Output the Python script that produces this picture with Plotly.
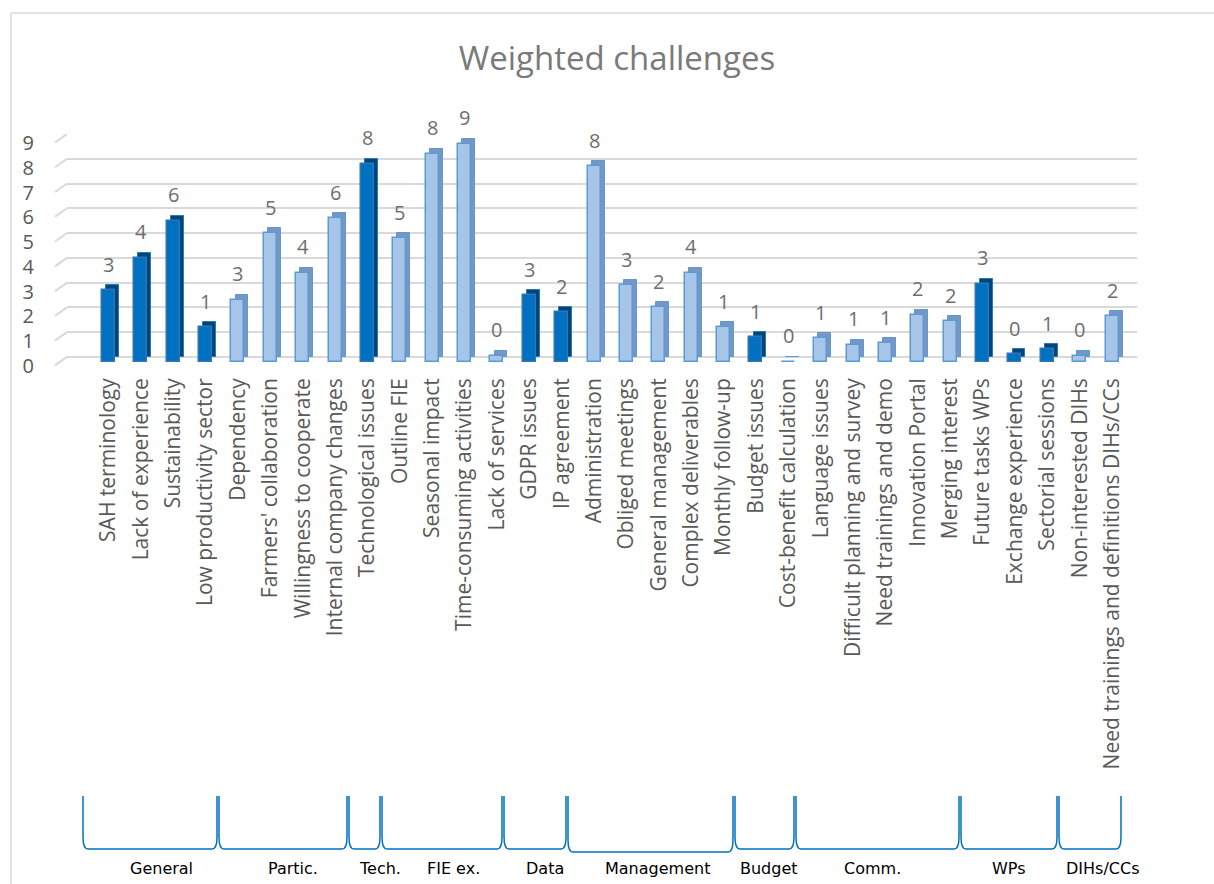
import math
import plotly.graph_objects as go

# ---------------- data ----------------
categories = [
    "SAH terminology", "Lack of experience", "Sustainability", "Low productivity sector",
    "Dependency", "Farmers' collaboration", "Willingness to cooperate", "Internal company changes",
    "Technological issues", "Outline FIE", "Seasonal impact", "Time-consuming activities",
    "Lack of services", "GDPR issues", "IP agreement", "Administration",
    "Obliged meetings", "General management", "Complex deliverables", "Monthly follow-up",
    "Budget issues", "Cost-benefit calculation", "Language issues", "Difficult planning and survey",
    "Need trainings and demo", "Innovation Portal", "Merging interest", "Future tasks WPs",
    "Exchange experience", "Sectorial sessions", "Non-interested DIHs",
    "Need trainings and definitions DIHs/CCs",
]
values = [
    2.9, 4.2, 5.7, 1.4,
    2.5, 5.2, 3.6, 5.8,
    8.0, 5.0, 8.4, 8.8,
    0.25, 2.7, 2.0, 7.9,
    3.1, 2.2, 3.6, 1.4,
    1.0, 0.0, 0.95, 0.7,
    0.75, 1.9, 1.65, 3.15,
    0.3, 0.5, 0.25, 1.85,
]
highlighted = [
    True, True, True, True,
    False, False, False, False,
    True, False, False, False,
    False, True, True, False,
    False, False, False, False,
    True, False, False, False,
    False, False, False, True,
    True, True, False, False,
]
group_names = ["General", "Partic.", "Tech.", "FIE ex.", "Data", "Management",
               "Budget", "Comm.", "WPs", "DIHs/CCs"]
y_ticks = list(range(10))

# ---------------- geometry helpers (pixel -> paper) ----------------
W, H = 1214, 884
ML, MR, MT, MB = 67, 77, 134, 516
PW, PH = W - ML - MR, H - MT - MB
Y0, Y1 = -0.45, 9.0
UNIT = PH / (Y1 - Y0)


def px(x):
    return (x - ML) / PW


def py(y):
    return (H - MB - y) / PH


DEPTH_Y = 5 / UNIT          # 3-D depth (vertical) in value units
BAR_W = 0.40
DEPTH_X = 0.125

dark_front, dark_side, dark_line = "#0070C0", "#00467A", "#2E75B6"
light_front, light_side, light_line = "#A7C5E9", "#7896C0", "#5B9BD5"

front_colors = [dark_front if h else light_front for h in highlighted]
side_colors = [dark_side if h else light_side for h in highlighted]
line_colors = [dark_line if h else light_line for h in highlighted]

fig = go.Figure()

# back / side faces
fig.add_trace(go.Bar(
    x=categories, y=values, base=0,
    width=BAR_W, offset=-BAR_W / 2 + DEPTH_X,
    marker=dict(color=side_colors, line=dict(color=line_colors, width=1)),
    hoverinfo="skip", showlegend=False,
))
# front faces
fig.add_trace(go.Bar(
    x=categories, y=values, base=-DEPTH_Y,
    width=BAR_W, offset=-BAR_W / 2,
    marker=dict(color=front_colors, line=dict(color=line_colors, width=1.5)),
    showlegend=False,
))

# data labels
for c, v in zip(categories, values):
    fig.add_annotation(
        x=c, y=v, text=str(int(math.floor(v + 0.5))), showarrow=False,
        yshift=21, yanchor="middle",
        font=dict(family="Open Sans", size=20, color="#6E6E6E"),
    )

shapes = []
# perspective stubs of the gridlines
for t in y_ticks:
    shapes.append(dict(type="line", xref="paper", yref="y",
                       x0=px(55), y0=t - 8.5 / UNIT, x1=px(67), y1=t,
                       line=dict(color="#D9D9D9", width=2)))

# chart frame (top and left)
shapes.append(dict(type="line", xref="paper", yref="paper",
                   x0=px(11), y0=py(13), x1=px(1214), y1=py(13),
                   line=dict(color="#D9D9D9", width=1.5)))
shapes.append(dict(type="line", xref="paper", yref="paper",
                   x0=px(11), y0=py(13), x1=px(11), y1=py(884),
                   line=dict(color="#D9D9D9", width=1.5)))

# group brackets below the axis
bounds = [82, 218, 348, 381, 503, 567, 734, 795, 960, 1058, 1122]
label_x = [161, 293, 380, 453, 545, 657, 769, 872, 1009, 1102]
TOP = 796
for i in range(len(bounds) - 1):
    a, b = bounds[i] + 1, bounds[i + 1] - 1
    bot = 852 if group_names[i] == "Management" else 849
    path = (f"M {px(a)},{py(TOP)} L {px(a)},{py(bot - 12)} "
            f"Q {px(a)},{py(bot)} {px(a + 5)},{py(bot)} "
            f"L {px(b - 5)},{py(bot)} "
            f"Q {px(b)},{py(bot)} {px(b)},{py(bot - 12)} L {px(b)},{py(TOP)}")
    shapes.append(dict(type="path", xref="paper", yref="paper", path=path,
                       line=dict(color="#0070C0", width=1.5)))
    fig.add_annotation(x=px(label_x[i]), y=py(868), xref="paper", yref="paper",
                       text=group_names[i], showarrow=False,
                       xanchor="center", yanchor="middle",
                       font=dict(family="DejaVu Sans", size=16, color="#000000"))

fig.update_layout(
    width=W, height=H,
    margin=dict(l=ML, r=MR, t=MT, b=MB, pad=0),
    paper_bgcolor="white", plot_bgcolor="white",
    barmode="overlay", bargap=0,
    shapes=shapes,
    title=dict(text="Weighted challenges", x=617 / W, xref="container", xanchor="center",
               y=1 - 58 / H, yref="container", yanchor="middle",
               font=dict(family="Open Sans", size=33, color="#7A7A7A")),
    xaxis=dict(
        type="category", range=[-1.28, 31.77], tickangle=-90,
        showgrid=False, zeroline=False, showline=False, ticks="",
        tickfont=dict(family="Open Sans", size=21, color="#595959"),
        ticklabelstandoff=5,
    ),
    yaxis=dict(
        range=[Y0, Y1], tickvals=y_ticks, showgrid=True, gridcolor="#D9D9D9", gridwidth=2,
        zeroline=False, showline=False, ticks="",
        tickfont=dict(family="Open Sans", size=20, color="#595959"),
        ticklabelshift=9, ticklabelstandoff=32,
    ),
)

fig.write_html("out.html", config={"displayModeBar": False},
               post_script="document.body.style.margin='0px';")
